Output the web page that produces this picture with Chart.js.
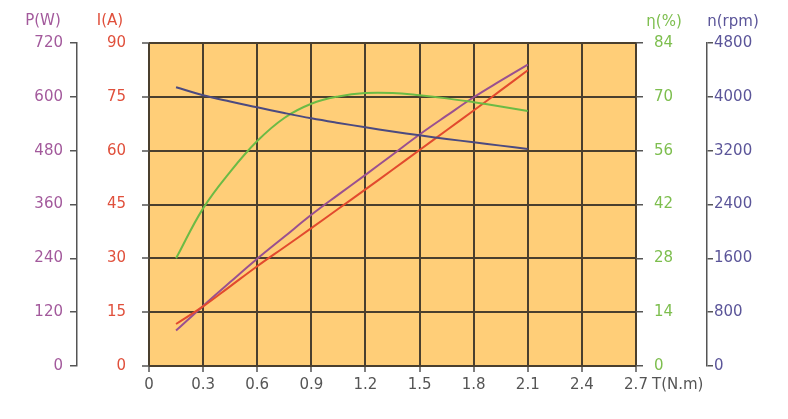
<!DOCTYPE html>
<html>
<head>
<meta charset="utf-8">
<script src="https://cdn.jsdelivr.net/npm/chart.js@4/dist/chart.umd.min.js"></script>
<style>
  html, body { margin: 0; padding: 0; background: #fff; }
  #wrap { width: 788px; height: 419px; position: relative; }
</style>
</head>
<body>
<div id="wrap"><canvas id="motorChart"></canvas></div>
<script>
// torque points (N.m)
const torque = [0.15, 0.3, 0.45, 0.6, 0.75, 0.9, 1.05, 1.2, 1.35, 1.5, 1.65, 1.8, 1.95, 2.1];
// speed n (rpm)
const speed = [4142, 4023, 3930, 3845, 3760, 3681, 3612, 3548, 3485, 3428, 3375, 3324, 3275, 3225];
// efficiency (%)
const efficiency = [28, 41, 50.5, 58.5, 64.5, 68.2, 70.1, 71, 71, 70.4, 69.6, 68.6, 67.5, 66.3];
// current I (A)
const current = [11.7, 16.6, 22.2, 27.8, 33.1, 38.4, 43.8, 49.2, 54.7, 60.2, 65.7, 71.2, 76.8, 82.4];
// power P (W)
const power = [79, 134, 187, 239, 288, 337, 382, 426, 471, 516, 558, 599, 636, 672];

const pts = (ys) => torque.map((t, i) => ({ x: t, y: ys[i] }));

Chart.defaults.font.family = 'DejaVu Sans';
Chart.defaults.font.size = 15;

const gridCol = '#4a3f2e';
const axisCol = '#555555';

// orange plot background + axis titles
const decor = {
  id: 'decor',
  beforeDraw(chart) {
    const { ctx, chartArea: a } = chart;
    ctx.save();
    ctx.fillStyle = '#FFCE78';
    ctx.fillRect(a.left, a.top, a.right - a.left, a.bottom - a.top);
    ctx.restore();
  },
  afterDraw(chart) {
    const { ctx, chartArea: a } = chart;
    ctx.save();
    ctx.font = '15px "DejaVu Sans"';
    ctx.textBaseline = 'middle';
    ctx.textAlign = 'center';
    ctx.fillStyle = '#A35A9C'; ctx.fillText('P(W)', 43, 21);
    ctx.fillStyle = '#E0503C'; ctx.fillText('I(A)', 110, 21);
    ctx.fillStyle = '#7DBE4E'; ctx.fillText('η(%)', 664, 22);
    ctx.fillStyle = '#5B5599'; ctx.fillText('n(rpm)', 733, 22);
    ctx.textAlign = 'left';
    ctx.fillStyle = '#555555'; ctx.fillText('T(N.m)', a.right + 16, 385);
    ctx.restore();
  }
};

const lineDs = (label, data, color, axis) => ({
  label, data: pts(data), yAxisID: axis, xAxisID: 'x',
  borderColor: color, borderWidth: 2, pointRadius: 0,
  tension: 0.4, fill: false
});

const plain = (v) => String(v);

new Chart(document.getElementById('motorChart'), {
  type: 'line',
  data: {
    datasets: [
      lineDs('n', speed, '#4B4A80', 'yN'),
      lineDs('η', efficiency, '#6CBB45', 'yE'),
      lineDs('I', current, '#E24A2E', 'yI'),
      lineDs('P', power, '#9A5090', 'yP')
    ]
  },
  options: {
    responsive: true,
    maintainAspectRatio: false,
    animation: false,
    devicePixelRatio: 1,
    layout: { padding: { top: 43, left: 0, right: 0, bottom: 0 } },
    plugins: { legend: { display: false }, tooltip: { enabled: false } },
    scales: {
      x: {
        type: 'linear', position: 'bottom', min: 0, max: 2.7,
        afterFit: (s) => { s.height = 53; },
        ticks: {
          stepSize: 0.3, color: '#555555', padding: 4, maxRotation: 0,
          callback: (v) => (Math.abs(v) < 1e-9 ? '0' : Number(v).toFixed(1))
        },
        grid: { color: gridCol, lineWidth: 2, tickLength: 6, tickColor: axisCol, tickWidth: 1.5 },
        border: { display: false }
      },
      yI: {
        position: 'left', weight: 0, min: 0, max: 90,
        afterFit: (s) => { s.width = 72; },
        ticks: { stepSize: 15, color: '#E0503C', padding: 16, callback: plain },
        grid: { color: gridCol, lineWidth: 2, tickLength: 7, tickColor: axisCol, tickWidth: 1.5 },
        border: { display: false }
      },
      yP: {
        position: 'left', weight: 1, min: 0, max: 720,
        afterFit: (s) => { s.width = 77; },
        ticks: { stepSize: 120, color: '#A35A9C', padding: 7, callback: plain },
        grid: { drawOnChartArea: false, color: axisCol, lineWidth: 1.5, tickLength: 7 },
        border: { display: true, color: axisCol, width: 1.5 }
      },
      yE: {
        position: 'right', weight: 0, min: 0, max: 84,
        afterFit: (s) => { s.width = 71; },
        ticks: { stepSize: 14, color: '#7DBE4E', padding: 11, callback: plain },
        grid: { drawOnChartArea: false, color: axisCol, lineWidth: 1.5, tickLength: 7 },
        border: { display: false }
      },
      yN: {
        position: 'right', weight: 1, min: 0, max: 4800,
        afterFit: (s) => { s.width = 81; },
        ticks: { stepSize: 800, color: '#5B5599', padding: 1, callback: plain },
        grid: { drawOnChartArea: false, color: axisCol, lineWidth: 1.5, tickLength: 6 },
        border: { display: true, color: axisCol, width: 1.5 }
      }
    }
  },
  plugins: [decor]
});
</script>
</body>
</html>
